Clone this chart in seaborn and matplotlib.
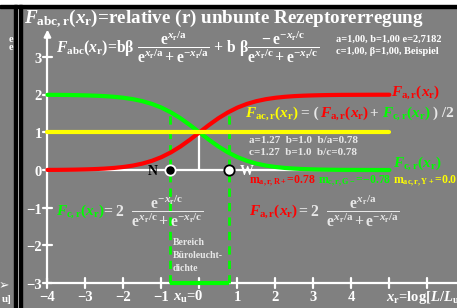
import numpy as np
import pandas as pd
import matplotlib
matplotlib.use("Agg")
import matplotlib.pyplot as plt
import seaborn as sns
from matplotlib.patches import Rectangle

# ---------------- data ----------------
x_values = [-4.0, -3.75, -3.5, -3.25, -3.0, -2.75, -2.5, -2.25, -2.0, -1.75, -1.5,
            -1.25, -1.0, -0.75, -0.5, -0.25, 0.0, 0.25, 0.5, 0.75, 1.0, 1.25, 1.5,
            1.75, 2.0, 2.25, 2.5, 2.75, 3.0, 3.25, 3.5, 3.75, 4.0, 4.25, 4.5, 4.75, 5.0]
red_values = [0.004, 0.005, 0.008, 0.012, 0.018, 0.026, 0.038, 0.056, 0.082, 0.119, 0.172,
              0.245, 0.343, 0.470, 0.625, 0.805, 1.000, 1.195, 1.375, 1.530, 1.657, 1.755,
              1.828, 1.881, 1.918, 1.944, 1.962, 1.974, 1.982, 1.988, 1.992, 1.995, 1.996,
              1.997, 1.998, 1.999, 1.999]
green_values = [1.996, 1.995, 1.992, 1.988, 1.982, 1.974, 1.962, 1.944, 1.918, 1.881, 1.828,
                1.755, 1.657, 1.530, 1.375, 1.195, 1.000, 0.805, 0.625, 0.470, 0.343, 0.245,
                0.172, 0.119, 0.082, 0.056, 0.038, 0.026, 0.018, 0.012, 0.008, 0.005, 0.004,
                0.003, 0.002, 0.001, 0.001]
yellow_x = [-4.0, 5.0]
yellow_values = [1.0, 1.0]
point_x = [-0.78, 0.78]
point_y = [0.0, 0.0]
dash_top = [1.53, 1.53]
x_ticks = [-4, -3, -2, -1, 0, 1, 2, 3, 4, 5, 6]
x_tick_labels = ["−4", "−3", "−2", "−1", "", "1", "2", "3", "4", "", ""]
y_ticks = [-3, -2, -1, 0, 1, 2, 3]
y_tick_labels = ["−3", "−2", "−1", "0", "1", "2", "3"]

# ---------------- style ----------------
sns.set_theme(style="white")
plt.rcParams["font.family"] = ["Liberation Serif", "DejaVu Serif"]
plt.rcParams["font.weight"] = "bold"
plt.rcParams["mathtext.fontset"] = "custom"
plt.rcParams["mathtext.rm"] = "Liberation Serif:bold"
plt.rcParams["mathtext.it"] = "Liberation Serif:italic:bold"
plt.rcParams["mathtext.bf"] = "Liberation Serif:bold"

GREY = "#808080"
RED = "#ff0000"
GREEN = "#00ff00"
YELLOW = "#ffff00"
WHITE = "#ffffff"
LIGHT = "#e8e8e8"

W, H = 457, 308
fig = plt.figure(figsize=(W / 100, H / 100), dpi=100, facecolor="white")

# left strip (remains of a neighbouring panel)
strip = fig.add_axes([0, 0, 14 / W, 300 / H])
strip.set_facecolor(GREY)
strip.set_xticks([]); strip.set_yticks([])
for s in strip.spines.values():
    s.set_visible(False)

ax = fig.add_axes([22 / W, 0, 435 / W, 300 / H])
ax.set_facecolor(GREY)
for s in ax.spines.values():
    s.set_visible(False)
ax.set_xticks([]); ax.set_yticks([])
ax.set_xlim(-4.67, 6.78)
ax.set_ylim(-3.66, 4.30)

# borders
fig.add_artist(Rectangle((14 / W, 0), 3 / W, 303 / H, transform=fig.transFigure,
                         color="black", zorder=10))
fig.add_artist(Rectangle((19 / W, 0), 3 / W, 303 / H, transform=fig.transFigure,
                         color="black", zorder=10))
fig.add_artist(Rectangle((0, 300 / H), 1, 3 / H, transform=fig.transFigure,
                         color="black", zorder=10))


def P(px, py):
    return ((px - 199.5) / 38.0, (170.0 - py) / 37.7)


# axes (white)
xmin_axis = x_ticks[0]
ymin_axis = y_ticks[0]
ax.plot([xmin_axis, 6.9], [ymin_axis, ymin_axis], color=WHITE, lw=1.6, zorder=2)
ax.plot([xmin_axis, xmin_axis], [ymin_axis, 3.62], color=WHITE, lw=1.6, zorder=2)
ax.annotate("", xy=(xmin_axis, 3.80), xytext=(xmin_axis, 3.45),
            arrowprops=dict(arrowstyle="-|>", color=WHITE, lw=1.6,
                            mutation_scale=10), zorder=3)
for t in x_ticks:
    ax.plot([t, t], [ymin_axis - 0.14, ymin_axis + 0.14], color=WHITE, lw=1.6, zorder=2)
for t in y_ticks:
    ax.plot([xmin_axis - 0.13, xmin_axis + 0.13], [t, t], color=WHITE, lw=1.6, zorder=2)
for t, lab in zip(x_ticks, x_tick_labels):
    if lab:
        ax.text(t, -3.38, lab, color=WHITE, fontsize=10.5, ha="center", va="center")
for t, lab in zip(y_ticks, y_tick_labels):
    ax.text(-4.14, t - 0.06, lab, color=WHITE, fontsize=10.5, ha="right", va="center")
ax.text(*P(204, 297), r"$x_\mathrm{u}$=0", color=WHITE, fontsize=10.5,
        ha="right", va="center")
ax.text(*P(386, 297), r"$x_\mathrm{r}$=log[$L/L_\mathrm{u}$]", color=WHITE,
        fontsize=10.5, ha="left", va="center")

# zero line and vertical helper line
ax.plot([xmin_axis, 4.0], [0, 0], color=WHITE, lw=1.6, zorder=2)
ax.plot([0, 0], [0, 1], color=WHITE, lw=1.6, zorder=2)

# dashed green verticals and base line
for xv, yt in zip(point_x, dash_top):
    ax.plot([xv, xv], [ymin_axis, yt], color=GREEN, lw=2, ls=(0, (3, 2.2)), zorder=3)
ax.plot(point_x, [ymin_axis, ymin_axis], color=GREEN, lw=3, zorder=3,
        solid_capstyle="butt")

# curves
df = pd.DataFrame({"x": x_values, "red": red_values, "green": green_values})
sns.lineplot(data=df, x="x", y="green", color=GREEN, lw=3, ax=ax, zorder=4)
sns.lineplot(data=df, x="x", y="red", color=RED, lw=3, ax=ax, zorder=4)
sns.lineplot(x=yellow_x, y=yellow_values, color=YELLOW, lw=3, ax=ax, zorder=5)
ax.set_xlabel(""); ax.set_ylabel("")
ax.set_xticks([]); ax.set_yticks([])

# points N and W
ax.scatter([point_x[0]], [point_y[0]], s=55, color="black", edgecolor=WHITE,
           linewidth=1.3, zorder=6)
ax.scatter([point_x[1]], [point_y[1]], s=55, color=WHITE, edgecolor="black",
           linewidth=1.3, zorder=6)
ax.text(*P(158, 171), "N", color="black", fontsize=10, ha="right", va="center", zorder=7)
ax.text(*P(240, 171), "W", color=WHITE, fontsize=10, ha="left", va="center", zorder=7)

# title
ax.text(*P(24, 19),
        r"$F_\mathrm{abc,r}(x_\mathrm{r})$=relative (r) unbunte Rezeptorerregung",
        color=WHITE, fontsize=13.8, ha="left", va="center")
ax.text(*P(56, 47),
        r"$F_\mathrm{abc}(x_\mathrm{r})$=bβ $\dfrac{\mathrm{e}^{x_\mathrm{r}/\mathrm{a}}}"
        r"{\mathrm{e}^{x_\mathrm{r}/\mathrm{a}}+\mathrm{e}^{-x_\mathrm{r}/\mathrm{a}}}$"
        r" + b β$\dfrac{-\,\mathrm{e}^{-x_\mathrm{r}/\mathrm{c}}}"
        r"{\mathrm{e}^{x_\mathrm{r}/\mathrm{c}}+\mathrm{e}^{-x_\mathrm{r}/\mathrm{c}}}$",
        color=WHITE, fontsize=11.3, ha="left", va="center")
ax.text(*P(336, 39), "a=1,00, b=1,00 e=2,7182", color=WHITE, fontsize=7.5,
        ha="left", va="center")
ax.text(*P(336, 51), "c=1,00, β=1,00, Beispiel", color=WHITE, fontsize=7.5,
        ha="left", va="center")

# yellow combined formula
fs = 11
ax.text(*P(245, 113), r"$F_\mathrm{ac,r}(x_\mathrm{r})$", color=YELLOW, fontsize=fs,
        ha="left", va="center")
ax.text(*P(301, 113), "= (", color=LIGHT, fontsize=fs, ha="left", va="center")
ax.text(*P(320, 113), r"$F_\mathrm{a,r}(x_\mathrm{r})$", color=RED, fontsize=fs,
        ha="left", va="center")
ax.text(*P(369, 113), "+", color=LIGHT, fontsize=fs, ha="left", va="center")
ax.text(*P(382, 113), r"$F_\mathrm{c,r}(x_\mathrm{r})$", color=GREEN, fontsize=fs,
        ha="left", va="center")
ax.text(*P(433, 113), ") /2", color=LIGHT, fontsize=fs, ha="left", va="center")

ax.text(*P(391, 92), r"$F_\mathrm{a,r}(x_\mathrm{r})$", color=RED, fontsize=fs,
        ha="left", va="center")
ax.text(*P(393, 163), r"$F_\mathrm{c,r}(x_\mathrm{r})$", color=GREEN, fontsize=fs,
        ha="left", va="center")
ax.text(*P(249, 140), "a=1.27  b=1.0  b/a=0.78", color=LIGHT, fontsize=8,
        ha="left", va="center")
ax.text(*P(249, 152), "c=1.27  b=1.0  b/c=0.78", color=LIGHT, fontsize=8,
        ha="left", va="center")
ax.text(*P(249, 181), r"$\mathrm{m}_\mathrm{a,r,R+}$=0.78", color=RED, fontsize=8.5,
        ha="left", va="center")
ax.text(*P(318, 181), r"$\mathrm{m}_\mathrm{c,r,G-}$=−0.78", color=GREEN, fontsize=8.5,
        ha="left", va="center")
ax.text(*P(393, 181), r"$\mathrm{m}_\mathrm{ac,r,Y+}$=0.0", color=YELLOW, fontsize=8.5,
        ha="left", va="center")

# lower formulas
ax.text(*P(56, 211), r"$F_\mathrm{c,r}(x_\mathrm{r})$", color=GREEN, fontsize=fs,
        ha="left", va="center")
ax.text(*P(103, 211),
        r"= 2  $\dfrac{\mathrm{e}^{-x_\mathrm{r}/\mathrm{c}}}"
        r"{\mathrm{e}^{x_\mathrm{r}/\mathrm{c}}+\mathrm{e}^{-x_\mathrm{r}/\mathrm{c}}}$",
        color=LIGHT, fontsize=11.3, ha="left", va="center")
ax.text(*P(249, 211), r"$F_\mathrm{a,r}(x_\mathrm{r})$", color=RED, fontsize=fs,
        ha="left", va="center")
ax.text(*P(298, 211),
        r"= 2  $\dfrac{\mathrm{e}^{x_\mathrm{r}/\mathrm{a}}}"
        r"{\mathrm{e}^{x_\mathrm{r}/\mathrm{a}}+\mathrm{e}^{-x_\mathrm{r}/\mathrm{a}}}$",
        color=LIGHT, fontsize=11.3, ha="left", va="center")

ax.text(*P(173, 242), "Bereich", color=LIGHT, fontsize=7, ha="left", va="center")
ax.text(*P(173, 255), "Büroleucht-", color=LIGHT, fontsize=7, ha="left", va="center")
ax.text(*P(173, 268), "dichte", color=LIGHT, fontsize=7, ha="left", va="center")

# remnants of the neighbouring panel
fig.text(13 / W, 1 - 39 / H, "e", color=WHITE, fontsize=7.5, ha="right", va="center")
fig.text(13 / W, 1 - 47 / H, "e", color=WHITE, fontsize=7.5, ha="right", va="center")
fig.text(12 / W, 1 - 300 / H, "u]", color=WHITE, fontsize=8, ha="right", va="center")
fig.text(9 / W, 1 - 286 / H, "➢", color=WHITE, fontsize=9, ha="right", va="center",
         family=["DejaVu Sans"])

fig.savefig("out.png", dpi=100, facecolor="white")
